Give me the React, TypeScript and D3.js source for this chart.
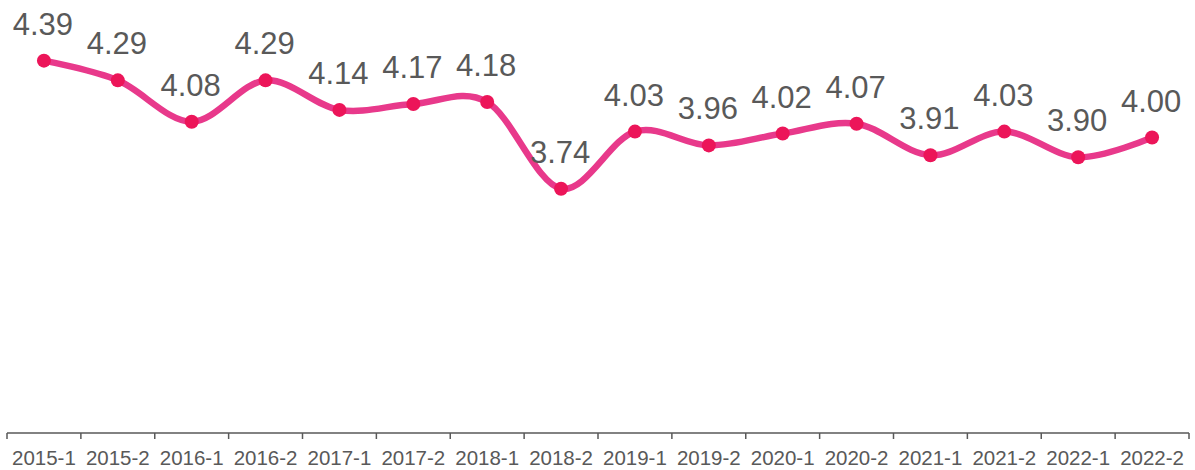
import React from "react";
import * as d3 from "d3";

const categories = ["2015-1","2015-2","2016-1","2016-2","2017-1","2017-2","2018-1","2018-2","2019-1","2019-2","2020-1","2020-2","2021-1","2021-2","2022-1","2022-2"];
const values = [4.39,4.29,4.08,4.29,4.14,4.17,4.18,3.74,4.03,3.96,4.02,4.07,3.91,4.03,3.90,4.00];
const yDomain = [2.5, 4.5];

export default function App() {
  const W = 1195, H = 470;
  const left = 7, right = 1189, axisY = 433;
  const x = d3.scaleBand<string>().domain(categories).range([left, right]).paddingInner(0).paddingOuter(0);
  const y = d3.scaleLinear().domain(yDomain).range([axisY, 39]);
  const cx = (c: string) => (x(c) as number) + x.bandwidth() / 2;
  const pts: [number, number][] = categories.map((c, i) => [cx(c), y(values[i])]);
  const line = d3.line().curve(d3.curveCardinal.tension(0))(pts) as string;
  const boundaries = categories.map((c) => x(c) as number).concat([right]);
  const font = "'Liberation Sans', Arial, sans-serif";
  return (
    <svg width={W} height={H} style={{ position: "absolute", left: 0, top: 0 }}>
      <path d={line} fill="none" stroke="#E8398B" strokeWidth={6.5} strokeLinecap="round" />
      {pts.map((p, i) => (
        <circle key={i} cx={p[0]} cy={p[1]} r={7} fill="#EC1559" />
      ))}
      {pts.map((p, i) => (
        <text key={"l" + i} x={p[0] - 1} y={p[1] - 26} textAnchor="middle" fontFamily={font} fontSize={31} fill="#595959">
          {values[i].toFixed(2)}
        </text>
      ))}
      <line x1={left} x2={right} y1={axisY} y2={axisY} stroke="#595959" strokeWidth={1.5} />
      {boundaries.map((b, i) => (
        <line key={"t" + i} x1={b} x2={b} y1={axisY} y2={axisY + 6} stroke="#595959" strokeWidth={1.5} />
      ))}
      {categories.map((c) => (
        <text key={"c" + c} x={cx(c)} y={465} textAnchor="middle" fontFamily={font} fontSize={20.5} fill="#595959">
          {c}
        </text>
      ))}
    </svg>
  );
}
